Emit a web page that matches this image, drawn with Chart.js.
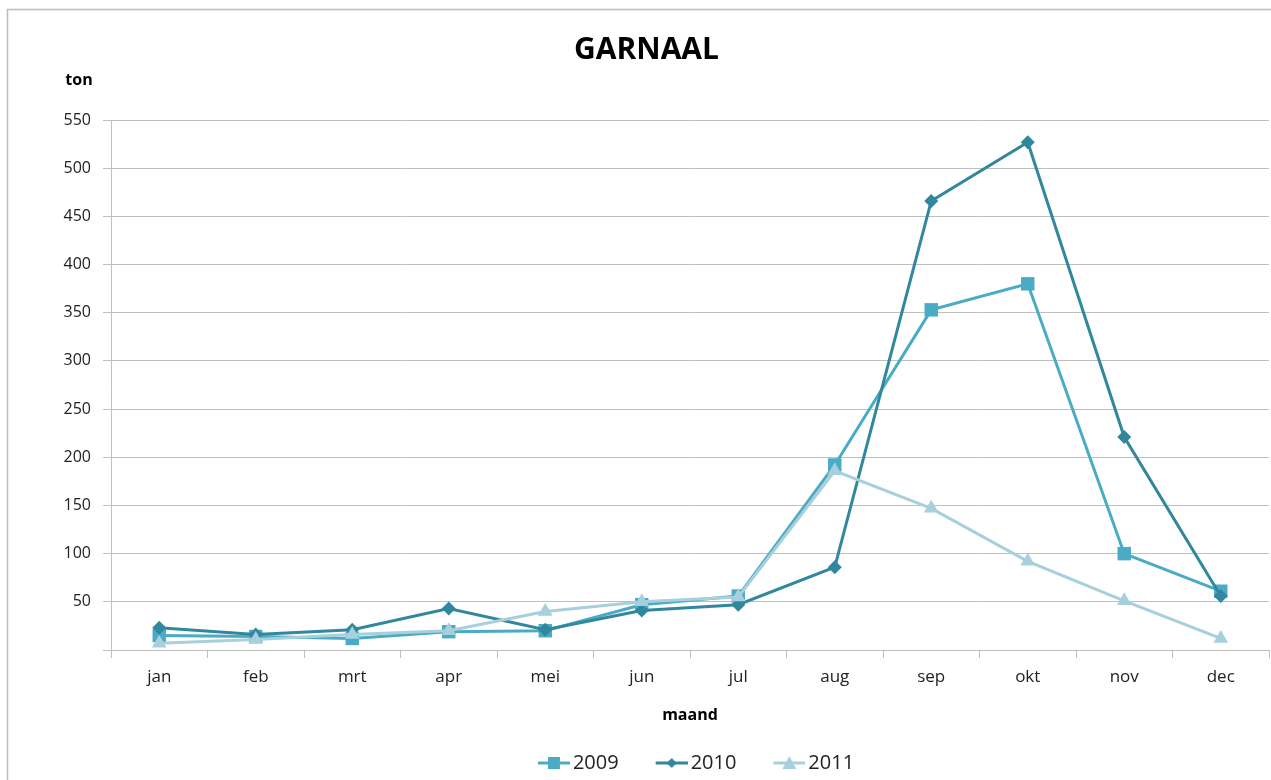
<!DOCTYPE html>
<html>
<head>
<meta charset="utf-8">
<script src="https://cdn.jsdelivr.net/npm/chart.js@4/dist/chart.umd.min.js"></script>
<style>
  html, body { margin: 0; padding: 0; background: #fff; }
  #wrap { width: 1271px; height: 780px; position: relative; }
</style>
</head>
<body>
<div id="wrap"><canvas id="c" width="1271" height="780"></canvas></div>
<script>
const months = ['jan','feb','mrt','apr','mei','jun','jul','aug','sep','okt','nov','dec'];
const seriesNames = ['2009','2010','2011'];
const values2009 = [15, 14, 12, 19, 20, 47, 56, 192, 353, 380, 100, 61];
const values2010 = [23, 16, 21, 43, 21, 41, 47, 86, 466, 527, 221, 56];
const values2011 = [7, 11, 16, 20, 40, 50, 55, 186, 147, 92, 51, 12];
const yTicks = [0, 50, 100, 150, 200, 250, 300, 350, 400, 450, 500, 550];

const colors = ['#4aabc5', '#31879d', '#a7cfdc'];
const styles = ['rect', 'rectRot', 'triangle'];
const radii = [9.5, 7, 8.5];
const FONT = '"Open Sans", Lato, sans-serif';

// legend icon: transparent left part, line + marker in right 32px
function legendIcon(color, style) {
  const c = document.createElement('canvas');
  c.width = 66; c.height = 16;
  const g = c.getContext('2d');
  const x0 = 34, cx = x0 + 16;
  g.strokeStyle = color; g.lineWidth = 3;
  g.beginPath(); g.moveTo(x0, 8); g.lineTo(66, 8); g.stroke();
  g.fillStyle = color;
  g.beginPath();
  if (style === 'rect') { g.rect(cx - 6, 2, 12, 12); }
  else if (style === 'rectRot') { g.moveTo(cx, 3); g.lineTo(cx + 5, 8); g.lineTo(cx, 13); g.lineTo(cx - 5, 8); g.closePath(); }
  else { g.moveTo(cx, 1); g.lineTo(cx + 7, 14); g.lineTo(cx - 7, 14); g.closePath(); }
  g.fill();
  return c;
}
const icons = colors.map((c, i) => legendIcon(c, styles[i]));

const allValues = [values2009, values2010, values2011];
const datasets = seriesNames.map((name, i) => ({
  label: name,
  data: allValues[i],
  borderColor: colors[i],
  backgroundColor: colors[i],
  borderWidth: 3,
  pointStyle: styles[i],
  pointRadius: radii[i],
  pointHoverRadius: radii[i],
  pointBackgroundColor: colors[i],
  pointBorderColor: colors[i],
  pointBorderWidth: 0,
  tension: 0,
  clip: false,
  order: 3 - i
}));

const framePlugin = {
  id: 'frame',
  afterLayout(chart) {
    if (chart.legend) { chart.legend.left += 48; chart.legend.right += 48; }
    if (chart.titleBlock) { chart.titleBlock.left += 12; chart.titleBlock.right += 12; }
  },
  afterDraw(chart) {
    const ctx = chart.ctx;
    ctx.save();
    ctx.strokeStyle = '#bdbdbd';
    ctx.lineWidth = 1.5;
    ctx.strokeRect(7.5, 9.5, 1300, 900);
    ctx.fillStyle = '#000';
    ctx.font = 'bold 16px ' + FONT;
    ctx.textAlign = 'center';
    ctx.textBaseline = 'middle';
    ctx.fillText('ton', 79, 80);
    ctx.restore();
  }
};

new Chart(document.getElementById('c'), {
  type: 'line',
  data: { labels: months, datasets },
  plugins: [framePlugin],
  options: {
    responsive: false,
    animation: false,
    layout: { autoPadding: false, padding: { left: 0, right: 2, top: 0, bottom: -3 } },
    plugins: {
      title: {
        display: true,
        text: 'GARNAAL',
        color: '#000',
        font: { family: FONT, size: 30, weight: 'bold' },
        padding: { top: 32, bottom: 52 }
      },
      legend: {
        position: 'bottom',
        labels: {
          usePointStyle: true,
          pointStyleWidth: 52,
          boxHeight: 20,
          padding: 10,
          color: '#222',
          font: { family: FONT, size: 20 },
          generateLabels(chart) {
            return chart.data.datasets.map((d, i) => ({
              text: d.label,
              pointStyle: icons[i],
              fillStyle: colors[i],
              strokeStyle: colors[i],
              lineWidth: 0,
              hidden: false,
              datasetIndex: i,
              fontColor: '#222'
            }));
          }
        }
      },
      tooltip: { enabled: false }
    },
    scales: {
      x: {
        offset: true,
        afterFit(scale) { scale.height = 93; },
        grid: { display: true, drawOnChartArea: false, drawTicks: true, tickLength: 8, offset: true, color: '#bfbfbf', lineWidth: 1 },
        border: { display: true, color: '#bfbfbf', width: 1 },
        ticks: { color: '#222', font: { family: FONT, size: 17 }, padding: 9, maxRotation: 0 },
        title: { display: true, text: 'maand', color: '#000', font: { family: FONT, size: 16, weight: 'bold' }, padding: { top: 8, bottom: 18 } }
      },
      y: {
        min: 0, max: 550,
        afterFit(scale) { scale.width = 111; },
        afterBuildTicks(scale) { scale.ticks = yTicks.map(v => ({ value: v })); },
        grid: { color: '#bfbfbf', lineWidth: 1, drawTicks: true, tickLength: 8 },
        border: { display: true, color: '#bfbfbf', width: 1 },
        ticks: {
          color: '#222', font: { family: FONT, size: 16 }, padding: 12,
          callback: (v) => v === 0 ? '' : String(v)
        }
      }
    }
  }
});
</script>
</body>
</html>
